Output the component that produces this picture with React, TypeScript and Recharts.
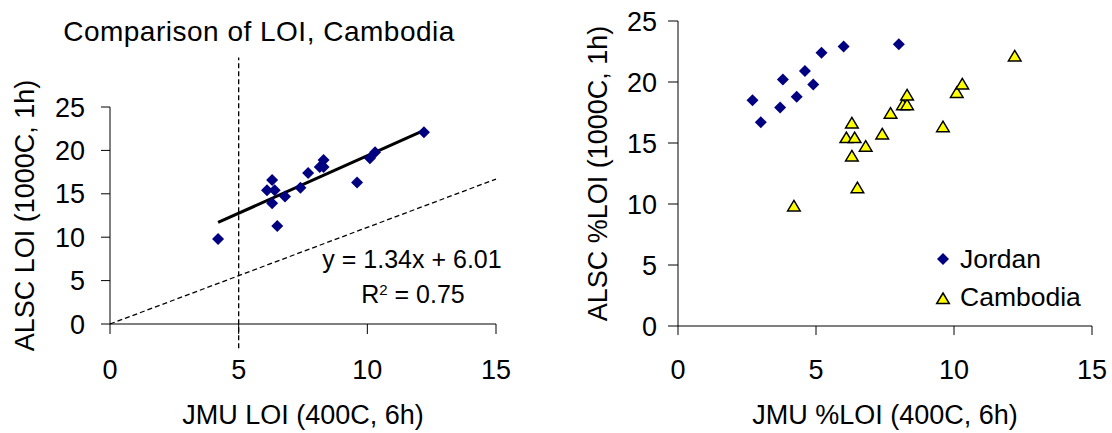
import { ScatterChart, Scatter, XAxis, YAxis, ReferenceLine, Legend } from 'recharts';

const xTicks = [0, 5, 10, 15];
const yTicks = [0, 5, 10, 15, 20, 25];

// Cambodia samples (JMU %LOI vs ALSC %LOI)
const cambodiaX = [4.2, 6.5, 6.3, 6.1, 6.4, 6.3, 6.8, 7.4, 7.7, 8.15, 8.3, 8.3, 9.6, 10.1, 10.3, 12.2];
const cambodiaY = [9.8, 11.3, 13.9, 15.4, 15.4, 16.6, 14.7, 15.7, 17.4, 18.1, 18.1, 18.9, 16.3, 19.1, 19.8, 22.1];

// Jordan samples
const jordanX = [2.7, 3.0, 3.7, 3.8, 4.3, 4.6, 4.9, 5.2, 6.0, 8.0];
const jordanY = [18.5, 16.7, 17.9, 20.2, 18.8, 20.9, 19.8, 22.4, 22.9, 23.1];

// lines on the left panel
const trendLine = [{ x: 4.2, y: 11.7 }, { x: 12.2, y: 22.3 }];
const dashedDiag = [{ x: 0, y: 0 }, { x: 15, y: 16.7 }];
const cutoffLine = [{ x: 5, y: -2.8 }, { x: 5, y: 30.7 }];

const seriesNames = ['Jordan', 'Cambodia'];

const cambodia = cambodiaX.map((x, i) => ({ x, y: cambodiaY[i] }));
const jordan = jordanX.map((x, i) => ({ x, y: jordanY[i] }));

const FONT = '"Liberation Sans", Arial, sans-serif';
const NAVY = '#000080';
const YELLOW = '#ffff00';

const Diamond = (props: any) => {
    const { cx, cy } = props;
    const r = 6;
    return <polygon points={`${cx},${cy - r} ${cx + r},${cy} ${cx},${cy + r} ${cx - r},${cy}`} fill={NAVY} />;
};

const Triangle = (props: any) => {
    const { cx, cy } = props;
    return (
        <polygon
            points={`${cx},${cy - 6} ${cx + 6.3},${cy + 4.5} ${cx - 6.3},${cy + 4.5}`}
            fill={YELLOW}
            stroke="#000"
            strokeWidth={1.5}
        />
    );
};

const tickStyle = { fill: '#000', fontSize: 27, fontFamily: FONT };
const labelStyle = { fill: '#000', fontSize: 27, fontFamily: FONT };

const LegendBox = () => (
    <div style={{ fontFamily: FONT, fontSize: 26.5, color: '#000' }}>
        {seriesNames.map((name) => (
            <div key={name} style={{ display: 'flex', alignItems: 'center', height: 38 }}>
                <svg width={16} height={20} style={{ marginRight: 9 }}>
                    {name === 'Jordan' ? <Diamond cx={8} cy={10} /> : <Triangle cx={8} cy={12} />}
                </svg>
                <span>{name}</span>
            </div>
        ))}
    </div>
);

export default function App() {
    return (
        <div style={{ position: 'absolute', left: 0, top: 0, width: 1112, height: 433, background: '#fff', fontFamily: FONT }}>
            <div style={{ position: 'absolute', left: 0, top: 0 }}>
                <ScatterChart width={520} height={433} margin={{ top: 107, right: 24, bottom: 49, left: 0 }} style={{ fontFamily: FONT }}>
                    <XAxis
                        type="number"
                        dataKey="x"
                        domain={[0, 15]}
                        ticks={xTicks}
                        height={60}
                        tickSize={10}
                        tickMargin={26}
                        tick={tickStyle}
                        stroke="#000"
                        label={{ value: 'JMU LOI (400C, 6h)', position: 'bottom', offset: 21, style: labelStyle }}
                    />
                    <YAxis
                        type="number"
                        dataKey="y"
                        domain={[0, 25]}
                        ticks={yTicks}
                        width={110}
                        tickSize={9}
                        tickMargin={16}
                        tick={tickStyle}
                        stroke="#000"
                        label={{ value: 'ALSC LOI (1000C, 1h)', angle: -90, position: 'insideLeft', offset: 24, style: { ...labelStyle, textAnchor: 'middle' } }}
                    />
                    <ReferenceLine segment={dashedDiag} stroke="#000" strokeWidth={1.3} strokeDasharray="5 3" ifOverflow="visible" />
                    <ReferenceLine segment={cutoffLine} stroke="#000" strokeWidth={1.3} strokeDasharray="5 3" ifOverflow="visible" />
                    <Scatter data={cambodia} shape={<Diamond />} isAnimationActive={false} />
                    <ReferenceLine segment={trendLine} stroke="#000" strokeWidth={3} ifOverflow="visible" />
                </ScatterChart>
                <div style={{ position: 'absolute', left: 0, width: 518, top: 18, textAlign: 'center', fontSize: 28, letterSpacing: 0.5, lineHeight: '28px', color: '#000', whiteSpace: 'nowrap' }}>
                    Comparison of LOI, Cambodia
                </div>
                <div style={{ position: 'absolute', left: 312, width: 200, top: 247, textAlign: 'center', fontSize: 25, lineHeight: '25px', color: '#000' }}>
                    y = 1.34x + 6.01
                </div>
                <div style={{ position: 'absolute', left: 313, width: 200, top: 282, textAlign: 'center', fontSize: 25, lineHeight: '25px', color: '#000' }}>
                    R<sup style={{ fontSize: 15, verticalAlign: 'top', lineHeight: '15px' }}>2</sup> = 0.75
                </div>
            </div>
            <div style={{ position: 'absolute', left: 560, top: 0 }}>
                <ScatterChart width={552} height={433} margin={{ top: 21, right: 20, bottom: 47, left: 0 }} style={{ fontFamily: FONT }}>
                    <XAxis
                        type="number"
                        dataKey="x"
                        domain={[0, 15]}
                        ticks={xTicks}
                        height={60}
                        tickSize={9}
                        tickMargin={25}
                        tick={tickStyle}
                        stroke="#000"
                        label={{ value: 'JMU %LOI (400C, 6h)', position: 'bottom', offset: 19, style: labelStyle }}
                    />
                    <YAxis
                        type="number"
                        dataKey="y"
                        domain={[0, 25]}
                        ticks={yTicks}
                        width={118}
                        tickSize={10}
                        tickMargin={11}
                        tick={tickStyle}
                        stroke="#000"
                        label={{ value: 'ALSC %LOI (1000C, 1h)', angle: -90, position: 'insideLeft', offset: 37.5, style: { ...labelStyle, textAnchor: 'middle' } }}
                    />
                    <Scatter name="Jordan" data={jordan} shape={<Diamond />} isAnimationActive={false} />
                    <Scatter name="Cambodia" data={cambodia} shape={<Triangle />} isAnimationActive={false} />
                    <Legend
                        layout="vertical"
                        align="center"
                        verticalAlign="middle"
                        content={() => <LegendBox />}
                        wrapperStyle={{ left: 375, top: 240, width: 'auto', height: 'auto', bottom: 'auto', right: 'auto' }}
                    />
                </ScatterChart>
            </div>
        </div>
    );
}
